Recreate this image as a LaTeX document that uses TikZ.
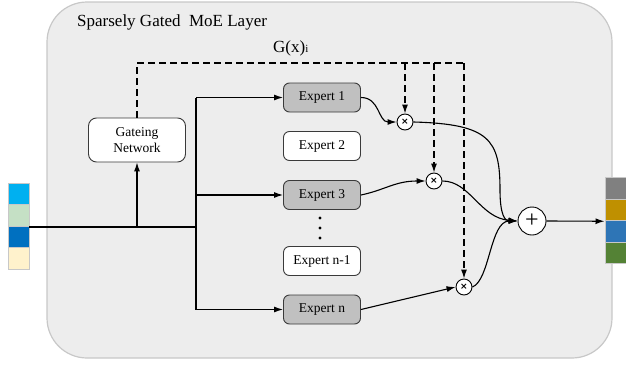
\documentclass[tikz,border=0pt]{standalone}
\usepackage{fontspec}
\setmainfont{Liberation Serif}
\newfontfamily\symfont{DejaVu Sans}
\usetikzlibrary{arrows.meta}
\definecolor{panel}{HTML}{EDEDED}
\definecolor{panelborder}{HTML}{C8C8C8}
\definecolor{expgray}{HTML}{C0C0C0}
\definecolor{boxborder}{HTML}{3A3A3A}
\definecolor{inA}{HTML}{00B0F0}
\definecolor{inB}{HTML}{C5E0C5}
\definecolor{inC}{HTML}{0070C0}
\definecolor{inD}{HTML}{FFF2CC}
\definecolor{outA}{HTML}{808080}
\definecolor{outB}{HTML}{BF9000}
\definecolor{outC}{HTML}{2E75B6}
\definecolor{outD}{HTML}{548235}
\tikzset{
  expertbox/.style={draw=boxborder, line width=0.9pt, rounded corners=6pt, minimum width=77pt, minimum height=29pt, inner sep=0pt, font=\fontsize{13.5}{15}\selectfont},
  activebox/.style={expertbox, fill=expgray},
  idlebox/.style={expertbox, fill=white},
  gatebox/.style={draw=boxborder, line width=0.9pt, rounded corners=8pt, fill=white, minimum width=97pt, minimum height=44pt, inner sep=0pt, align=center, font=\fontsize{13.5}{16}\selectfont},
  mulnode/.style={circle, draw=black, line width=0.9pt, fill=white, minimum size=16pt, inner sep=0pt, font=\symfont\bfseries\fontsize{9}{9}\selectfont},
  sumnode/.style={circle, draw=black, line width=0.9pt, fill=white, minimum size=28pt, inner sep=0pt},
  flow/.style={line width=1.1pt, -{Latex[length=9pt,width=6pt]}},
  plainflow/.style={line width=1.3pt},
  gateflow/.style={line width=1.1pt, dash pattern=on 7pt off 4pt, -{Latex[length=9pt,width=6pt]}},
  gateline/.style={line width=1.1pt, dash pattern=on 7pt off 4pt},
  cell/.style={draw=panelborder, line width=1pt, minimum width=21pt, minimum height=21.5pt, inner sep=0pt},
}
\begin{document}
\begin{tikzpicture}[x=1pt,y=-1pt]
\useasboundingbox (0,0) rectangle (626,364);
% panel
\draw[fill=panel, draw=panelborder, line width=1.2pt, rounded corners=40pt] (47,2) rectangle (612,358);
\node[anchor=base west, font=\fontsize{17}{20}\selectfont, inner sep=0pt] (title) at (77,27) {Sparsely Gated\ \ MoE Layer};
\node[anchor=base west, font=\fontsize{17}{20}\selectfont, inner sep=0pt] (gx) at (273,52) {G(x){\fontsize{11}{12}\selectfont i}};

% input cells
\node[cell, fill=inA] (in1) at (18.5,194) {};
\node[cell, fill=inB] (in2) at (18.5,215.5) {};
\node[cell, fill=inC] (in3) at (18.5,237) {};
\node[cell, fill=inD] (in4) at (18.5,258.5) {};

% output cells
\node[cell, fill=outA] (out1) at (615.5,188.5) {};
\node[cell, fill=outB] (out2) at (615.5,210) {};
\node[cell, fill=outC] (out3) at (615.5,231.5) {};
\node[cell, fill=outD] (out4) at (615.5,253) {};

% gating network
\node[gatebox] (gate) at (137,140) {Gateing\\Network};

% experts
\node[activebox] (e1) at (322,97.5) {Expert 1};
\node[idlebox] (e2) at (322,146) {Expert 2};
\node[activebox] (e3) at (322,195) {Expert 3};
\node[idlebox] (en1) at (322,261) {Expert n-1};
\node[activebox] (en) at (322,309.5) {Expert n};
\foreach \yy in {218,228,238} \fill (320,\yy) circle (1.6pt);

% multipliers and sum
\node[mulnode] (m1) at (405,122) {×};
\node[mulnode] (m3) at (434,181) {×};
\node[mulnode] (mn) at (464,287) {×};
\node[sumnode] (sum) at (532,221) {\fontsize{24}{24}\selectfont +};

% coordinates
\coordinate (split) at (196,227);
\coordinate (gsplit) at (137,227);
\coordinate (top) at (196,97.5);
\coordinate (bot) at (196,309.5);
\coordinate (ins) at (29,227);

% input flow
\draw[plainflow] (ins) -- (split);
\draw[plainflow] (top) -- (bot);
\draw[flow] (gsplit) -- (gate.south);
\draw[flow] (top) -- (e1.west);
\draw[flow] (split |- e3.west) -- (e3.west);
\draw[flow] (bot) -- (en.west);

% gating dashed
\coordinate (gtop) at (137,63);
\coordinate (d1) at (405,63);
\coordinate (d3) at (434,63);
\coordinate (dn) at (464,63);
\draw[gateline] (gate.north) -- (gtop) -- (dn);
\draw[gateflow] (d1) -- (m1.north);
\draw[gateflow] (d3) -- (m3.north);
\draw[gateflow] (dn) -- (mn.north);

% expert to multiplier
\draw[flow] (e1.east) .. controls (380,97.5) and (378,122) .. (m1.west);
\draw[flow] (e3.east) .. controls (385,190) and (395,181) .. (m3.west);
\draw[flow] (en.east) -- (mn.west);

% multiplier to sum
\draw[flow] (m1.east) .. controls (490,124) and (500,140) .. (500,190) .. controls (500,215) and (505,221) .. (sum.west);
\draw[flow] (m3.east) .. controls (470,181) and (480,218) .. (sum.west);
\draw[flow] (mn.east) .. controls (490,280) and (490,221) .. (sum.west);

% output
\draw[flow] (sum.east) -- (out2.south west);
\end{tikzpicture}
\end{document}
